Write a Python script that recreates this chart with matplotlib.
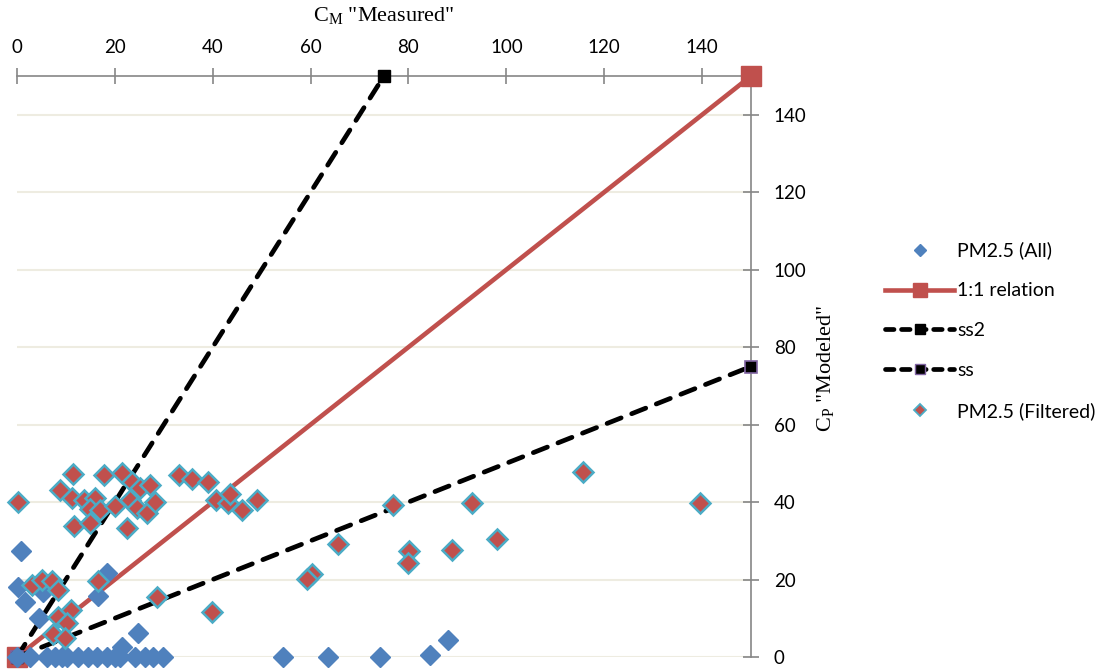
import matplotlib
matplotlib.use("Agg")
import matplotlib.pyplot as plt
from matplotlib.lines import Line2D

# PM2.5 (Filtered): measured vs modeled concentrations
filt_x = [0.2, 8.8, 11.2, 11.4, 17.8, 21.5, 23.5, 25.1, 27.2, 13.7, 15.9, 14.9, 17.0,
          20.0, 11.6, 14.9, 22.5, 23.1, 24.5, 26.6, 28.2, 33.1, 35.8, 39.0, 40.7,
          43.1, 43.5, 46.0, 49.0, 65.6, 76.8, 93.0, 80.1, 79.9, 88.9, 98.1, 115.7,
          139.6, 60.3, 59.3, 39.9, 28.6, 3.1, 5.1, 7.2, 8.4, 16.6, 8.4, 11.0, 10.2,
          7.4, 9.8]
filt_y = [40.0, 43.1, 41.1, 47.3, 47.0, 47.5, 45.2, 43.6, 44.4, 40.5, 41.1, 38.2, 38.0,
          39.0, 33.8, 34.6, 33.3, 40.5, 38.5, 37.2, 40.0, 47.0, 46.0, 45.2, 40.5,
          39.8, 42.1, 38.0, 40.5, 29.2, 39.2, 39.8, 27.4, 24.3, 27.6, 30.5, 47.8,
          39.8, 21.4, 20.1, 11.6, 15.5, 18.6, 19.9, 19.6, 17.3, 19.6, 10.3, 12.1, 8.8,
          5.9, 4.9]

# points that were dropped by the filter
drop_x = [0.8, 0.2, 1.6, 4.5, 18.4, 16.6, 24.7, 5.3, 21.5, 84.4, 88.1,
          0.0, 2.7, 6.1, 7.8, 9.2, 10.2, 12.5, 14.5, 16.4, 18.4, 20.0, 21.1, 24.1,
          26.2, 27.8, 29.8, 54.4, 63.6, 74.2]
drop_y = [27.4, 18.1, 14.2, 10.1, 21.7, 15.7, 6.2, 16.8, 2.6, 0.5, 4.4,
          0.0, 0.0, 0.0, 0.0, 0.0, 0.0, 0.0, 0.0, 0.0, 0.0, 0.0, 0.0, 0.0,
          0.0, 0.0, 0.0, 0.0, 0.0, 0.0]

all_x = drop_x + filt_x
all_y = drop_y + filt_y

# reference lines
one_x, one_y = [0, 150], [0, 150]
ss2_x, ss2_y = [0, 75], [0, 150]
ss_x, ss_y = [0, 150], [0, 75]

ticks = [0, 20, 40, 60, 80, 100, 120, 140]

blue = "#4F81BD"
red = "#C0504D"
cyan = "#4BACC6"
purple = "#8064A2"
grey = "#868686"
dash = (0, (3.2, 2.4))

plt.rcParams["font.family"] = ["Lato", "DejaVu Sans"]
plt.rcParams["mathtext.default"] = "regular"

fig = plt.figure(figsize=(11.08, 6.71), dpi=100)
ax = fig.add_axes([0.0153, 0.0209, 0.6625, 0.8658])

ax.set_xlim(0, 150)
ax.set_ylim(0, 150)

for t in ticks:
    ax.axhline(t, color="#EEECE1", lw=1.5, zorder=0)

ax.plot(one_x, one_y, color=red, lw=3.3, marker="s", ms=14.5,
        zorder=1.5, clip_on=False, solid_capstyle="butt")
ax.plot(ss2_x, ss2_y, color="black", lw=3.4, ls=dash,
        dash_capstyle="round", marker="s", ms=8.5, zorder=1.5, clip_on=False)
ax.plot(ss_x, ss_y, color="black", lw=3.4, ls=dash,
        dash_capstyle="round", marker="s", ms=8.5, mec=purple, mew=1.2,
        zorder=1.5, clip_on=False)
ax.plot(all_x, all_y, ls="none", marker="D", ms=10.5, color=blue,
        mec=blue, zorder=2, clip_on=False)
ax.plot(filt_x, filt_y, ls="none", marker="D", ms=10.5, color=red,
        mec=cyan, mew=1.8, zorder=4, clip_on=False)

# axes on the top and right only
for side in ["left", "bottom"]:
    ax.spines[side].set_visible(False)
for side in ["top", "right"]:
    ax.spines[side].set_color(grey)
    ax.spines[side].set_linewidth(1.2)
    ax.spines[side].set_zorder(1)

ax.xaxis.tick_top()
ax.yaxis.tick_right()
ax.set_xticks(ticks)
ax.set_yticks(ticks)
ax.tick_params(direction="inout", length=11, width=1.2, color=grey,
               labelsize=13.5, labelcolor="black")
ax.tick_params(axis="x", pad=9)
ax.tick_params(axis="y", pad=11)

fig.text(384 / 1108, 1 - 15 / 671, r'C$_M$ "Measured"', family="Liberation Serif",
         fontsize=16, ha="center", va="center")
fig.text(826 / 1108, 1 - 368 / 671, r'C$_P$ "Modeled"', family="Liberation Serif",
         fontsize=16, ha="center", va="center", rotation=90)

handles = [
    Line2D([], [], ls="none", marker="D", ms=6.5, color=blue),
    Line2D([], [], color=red, lw=3.3, marker="s", ms=10),
    Line2D([], [], color="black", lw=3.4, ls=(0, (1.8, 1.6)),
           dash_capstyle="round", marker="s", ms=6.5),
    Line2D([], [], color="black", lw=3.4, ls=(0, (1.8, 1.6)),
           dash_capstyle="round", marker="s", ms=6.5, mec=purple, mew=1),
    Line2D([], [], ls="none", marker="D", ms=6.5, color=red, mec=cyan, mew=1.3),
]
labels = ["PM2.5 (All)", "1:1 relation", "ss2", "ss", "PM2.5 (Filtered)"]
fig.legend(handles, labels, loc="center left", bbox_to_anchor=(0.783, 0.507),
           frameon=False, fontsize=14, handlelength=3.55, handletextpad=0.15,
           labelspacing=1.18, numpoints=1)

fig.savefig("out.png", dpi=100)
